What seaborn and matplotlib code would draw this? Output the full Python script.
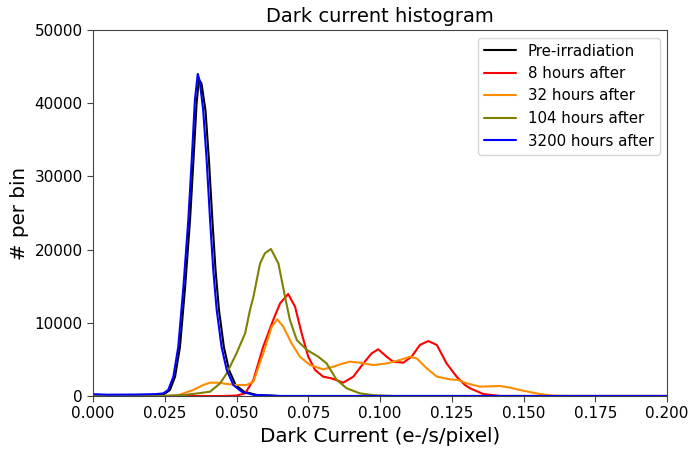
import numpy as np
import pandas as pd
import matplotlib
matplotlib.use("Agg")
import matplotlib.pyplot as plt
import seaborn as sns

series_names = ["Pre-irradiation", "8 hours after", "32 hours after",
                "104 hours after", "3200 hours after"]
series_colors = ["black", "red", "darkorange", "olive", "blue"]

pre_x = [0.0, 0.005, 0.015, 0.024, 0.0252, 0.0268, 0.0286, 0.0303, 0.0321, 0.0338,
         0.035, 0.0361, 0.0369, 0.0378, 0.0392, 0.0404, 0.0416, 0.0427, 0.0439, 0.0456,
         0.0474, 0.0497, 0.0526, 0.057, 0.065, 0.2]
pre_y = [100, 80, 100, 150, 360, 820, 2640, 6700, 14900, 24000,
         32200, 40000, 43200, 42700, 39000, 32200, 24000, 17200, 11750, 6700,
         3550, 1500, 590, 150, 0, 0]

h8_x = [0.0, 0.045, 0.05, 0.053, 0.0559, 0.0593, 0.0628, 0.0652, 0.068, 0.0704,
        0.0727, 0.075, 0.0774, 0.0802, 0.0832, 0.0872, 0.0907, 0.0942, 0.0971, 0.0994,
        0.1023, 0.1046, 0.1081, 0.111, 0.1139, 0.1168, 0.1198, 0.1232, 0.1267, 0.1296,
        0.1314, 0.136, 0.142, 0.2]
h8_y = [0, 0, 60, 360, 2200, 6740, 10400, 12670, 13930, 12200,
        8560, 5370, 3550, 2640, 2400, 1820, 2640, 4450, 5830, 6380,
        5370, 4690, 4550, 5370, 6970, 7510, 6970, 4450, 2640, 1500,
        1050, 270, 0, 0]

h32_x = [0.0, 0.025, 0.03, 0.0349, 0.0384, 0.0408, 0.0437, 0.0466, 0.05, 0.0535,
         0.0559, 0.0593, 0.0623, 0.0642, 0.0663, 0.0692, 0.0721, 0.0756, 0.0802, 0.0837,
         0.0872, 0.0895, 0.093, 0.0977, 0.1023, 0.107, 0.1105, 0.1128, 0.1163, 0.1198,
         0.1244, 0.1273, 0.1302, 0.1348, 0.1418, 0.1453, 0.1499, 0.1557, 0.1604, 0.165,
         0.2]
h32_y = [0, 0, 150, 820, 1500, 1820, 1820, 1640, 1500, 1500,
         1960, 5830, 9470, 10470, 9470, 7190, 5370, 4230, 3640, 4000,
         4450, 4690, 4550, 4230, 4450, 4920, 5370, 5140, 3780, 2640,
         2270, 2190, 1730, 1280, 1370, 1140, 720, 270, 40, 0,
         0]

h104_x = [0.0, 0.025, 0.032, 0.0373, 0.0408, 0.0443, 0.0466, 0.05, 0.053, 0.0547,
          0.0559, 0.0582, 0.0599, 0.062, 0.0646, 0.0669, 0.0686, 0.071, 0.0745, 0.0785,
          0.0814, 0.0849, 0.0884, 0.093, 0.098, 0.105, 0.2]
h104_y = [0, 0, 150, 400, 590, 1730, 3100, 5830, 8560, 11750,
          13560, 18100, 19500, 20080, 18100, 13570, 10400, 7650, 6300, 5370,
          4450, 2200, 1050, 360, 100, 0, 0]

h3200_x = [0.0, 0.005, 0.015, 0.022, 0.0245, 0.0262, 0.028, 0.0297, 0.0315, 0.0332,
           0.0344, 0.0355, 0.0365, 0.0372, 0.0384, 0.0396, 0.0408, 0.0419, 0.0431, 0.0448,
           0.0466, 0.0489, 0.0518, 0.056, 0.065, 0.2]
h3200_y = [250, 180, 200, 260, 360, 820, 2640, 6700, 14900, 24000,
           32200, 40400, 44000, 43000, 39000, 32200, 24000, 17200, 11750, 6700,
           3550, 1500, 590, 150, 0, 0]

xs = [pre_x, h8_x, h32_x, h104_x, h3200_x]
ys = [pre_y, h8_y, h32_y, h104_y, h3200_y]
frames = []
for name, x, y in zip(series_names, xs, ys):
    frames.append(pd.DataFrame({"x": x, "y": y, "series": name}))
df = pd.concat(frames, ignore_index=True)

sns.set_style("ticks")
plt.rcParams["font.family"] = ["DejaVu Sans"]
plt.rcParams["text.color"] = "black"
plt.rcParams["axes.labelcolor"] = "black"
plt.rcParams["xtick.color"] = "black"
plt.rcParams["ytick.color"] = "black"

fig = plt.figure(figsize=(6.9, 4.49), dpi=100)
ax = fig.add_axes([93 / 690, 1 - 396 / 449, (667 - 93) / 690, (396 - 30) / 449])

sns.lineplot(data=df, x="x", y="y", hue="series", hue_order=series_names,
             palette=series_colors, linewidth=1.5, ax=ax, sort=False,
             estimator=None)

ax.set_xlim(0, 0.2)
ax.set_ylim(0, 50000)
ticks_x = np.arange(0, 0.2001, 0.025)
ax.set_xticks(ticks_x)
ax.set_xticklabels([f"{v:.3f}" for v in ticks_x])
ax.set_yticks(np.arange(0, 50001, 10000))
ax.tick_params(labelsize=11, length=4, width=0.8, color="#444444", labelcolor="black")
for s in ax.spines.values():
    s.set_color("#444444")
    s.set_linewidth(0.8)
    s.set_visible(True)
ax.set_title("Dark current histogram", fontsize=14, color="black")
ax.set_xlabel("Dark Current (e-/s/pixel)", fontsize=14.3)
ax.set_ylabel("# per bin", fontsize=14.3)
leg = ax.legend(loc="upper right", fontsize=10.8, frameon=True, title=None,
                handlelength=2.1, borderaxespad=0.5)
leg.get_frame().set_edgecolor("#cccccc")
for t in leg.get_texts():
    t.set_color("black")

fig.savefig("out.png", dpi=100)
